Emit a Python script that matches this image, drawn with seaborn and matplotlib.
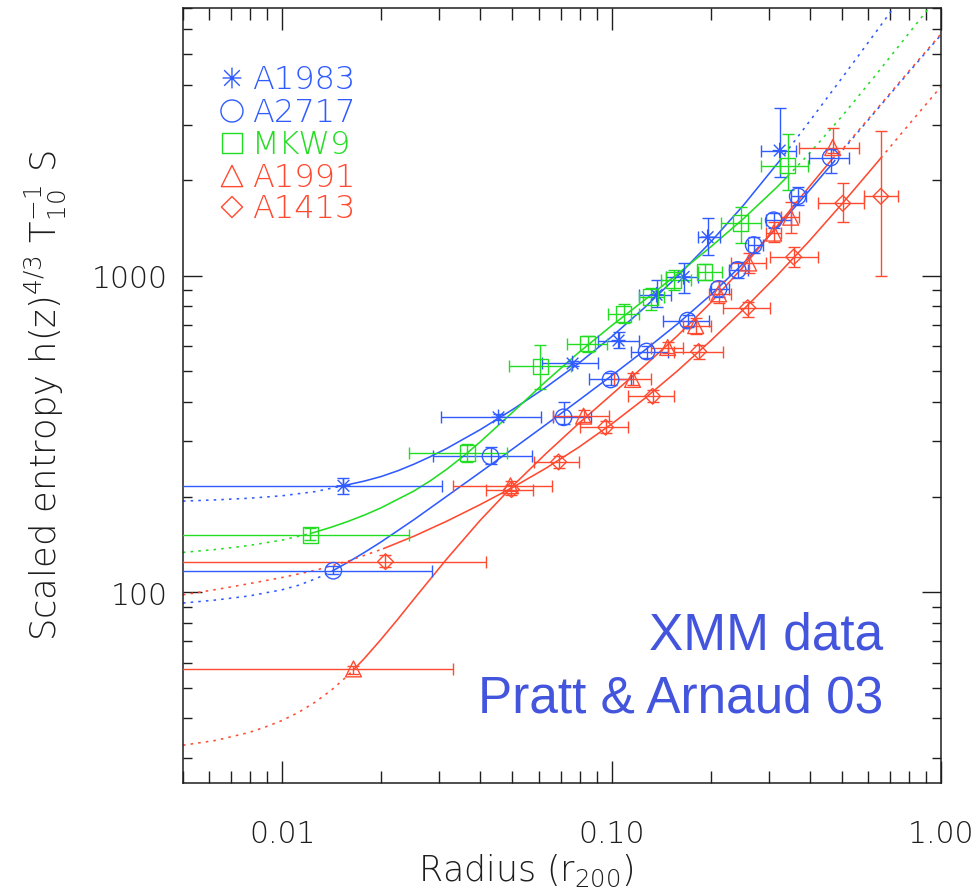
import matplotlib
matplotlib.use("Agg")
import matplotlib.pyplot as plt
import seaborn as sns
import numpy as np
from matplotlib.path import Path
from matplotlib.ticker import LogLocator, FixedLocator, FixedFormatter, NullFormatter

sns.set_theme(style="white")
plt.rcParams['font.family'] = ['DejaVu Sans']
plt.rcParams['mathtext.fontset'] = 'custom'
plt.rcParams['mathtext.rm'] = 'DejaVu Sans:light'
plt.rcParams['mathtext.sf'] = 'DejaVu Sans:light'
plt.rcParams['mathtext.it'] = 'DejaVu Sans:italic:light'
plt.rcParams['mathtext.bf'] = 'DejaVu Sans:bold'

BLUE = '#2f5bff'
GREEN = '#22dd22'
RED = '#ff4a30'
TXT = '#4455dd'
INK = '#1e1e1e'

# ---------------- data (radius in r200, scaled entropy) ----------------
clusters = ['A1983', 'A2717', 'MKW9', 'A1991', 'A1413']

a1983_r = [0.01535, 0.04537, 0.07614, 0.1050, 0.1370, 0.1655, 0.1957, 0.3238]
a1983_rlo = [0.001, 0.03045, 0.0617, 0.09068, 0.1208, 0.1459, 0.1825, 0.2836]
a1983_rhi = [0.03066, 0.06127, 0.09068, 0.1208, 0.1511, 0.1825, 0.2128, 0.3621]
a1983_S = [217, 357, 528, 624, 870, 991, 1323, 2483]
a1983_Slo = [205, 350, 520, 593, 798, 882, 1161, 2042]
a1983_Shi = [230, 365, 537, 666, 969, 1096, 1518, 3388]

a2717_r = [0.01430, 0.04290, 0.07149, 0.0993, 0.1277, 0.1702, 0.2113, 0.2414, 0.2700, 0.3105, 0.3673, 0.4625]
a2717_rlo = [0.001, 0.02879, 0.06619, 0.08515, 0.1142, 0.1429, 0.1999, 0.2266, 0.2589, 0.2937, 0.3497, 0.3966]
a2717_rhi = [0.02859, 0.05715, 0.08635, 0.1142, 0.1480, 0.1971, 0.2266, 0.2589, 0.2876, 0.3497, 0.3884, 0.5247]
a2717_S = [117, 269, 357, 470, 576, 721, 908, 1042, 1249, 1496, 1780, 2360]
a2717_Slo = [114, 254, 340, 450, 551, 690, 857, 984, 1178, 1412, 1668, 2102]
a2717_Shi = [121, 288, 398, 491, 601, 753, 962, 1104, 1323, 1574, 1900, 2519]

mkw9_r = [0.01218, 0.03652, 0.06084, 0.08456, 0.1088, 0.1314, 0.1543, 0.1917, 0.2465, 0.3424]
mkw9_rlo = [0.001, 0.02434, 0.04865, 0.0730, 0.09723, 0.1208, 0.1409, 0.1825, 0.2143, 0.2836]
mkw9_rhi = [0.02434, 0.04831, 0.07509, 0.09656, 0.1208, 0.1439, 0.1738, 0.2158, 0.2836, 0.3939]
mkw9_S = [152, 275, 517, 610, 758, 857, 969, 1027, 1464, 2227]
mkw9_Slo = [146, 258, 438, 572, 710, 780, 902, 969, 1267, 1859]
mkw9_Shi = [160, 294, 606, 647, 815, 915, 1042, 1089, 1644, 2808]

a1991_r = [0.01646, 0.04934, 0.08223, 0.1158, 0.1480, 0.1800, 0.2113, 0.2607, 0.3105, 0.3497, 0.4691]
a1991_rlo = [0.001, 0.03311, 0.06619, 0.1014, 0.1314, 0.1643, 0.1971, 0.2298, 0.2937, 0.3261, 0.3698]
a1991_rhi = [0.03311, 0.06573, 0.09792, 0.1314, 0.1643, 0.1999, 0.2298, 0.2937, 0.3261, 0.3698, 0.5627]
a1991_S = [57.3, 217, 360, 470, 593, 695, 876, 1096, 1362, 1529, 2537]
a1991_Slo = [55.3, 209, 345, 450, 568, 656, 821, 1020, 1276, 1362, 2447]
a1991_Shi = [58.6, 225, 376, 491, 619, 737, 962, 1178, 1475, 1704, 2933]

a1413_r = [0.02059, 0.04968, 0.06904, 0.0959, 0.1332, 0.1838, 0.2589, 0.3572, 0.5031, 0.6564]
a1413_rlo = [0.001, 0.04143, 0.05795, 0.08046, 0.1118, 0.1543, 0.2174, 0.3020, 0.4224, 0.5827]
a1413_rhi = [0.04143, 0.05754, 0.0799, 0.1118, 0.1543, 0.2174, 0.3020, 0.4224, 0.5827, 0.7393]
a1413_S = [125, 211, 258, 332, 416, 576, 792, 1145, 1692, 1780]
a1413_Slo = [120, 203, 247, 318, 398, 547, 742, 1065, 1475, 998]
a1413_Shi = [131, 218, 269, 347, 434, 606, 827, 1231, 1955, 2869]

# model curves (solid inside data range, dotted outside)
a1983_fit_r = [0.005, 0.00631, 0.00794, 0.0100, 0.01259, 0.01524, 0.01778, 0.01995, 0.02239, 0.02512,
               0.02818, 0.03162, 0.03981, 0.05012, 0.0631, 0.07943, 0.1, 0.1259, 0.1585, 0.1995,
               0.2512, 0.3238, 0.3981, 0.5012, 0.631, 0.7413]
a1983_fit_S = [194.1, 195.9, 198.2, 201.8, 208.0, 216.8, 224.6, 232.0, 241.8, 253.9,
               268.2, 284.8, 325.8, 378.0, 443.6, 528.4, 641.2, 792.5, 995.4, 1274,
               1667, 2307, 3062, 4217, 5834, 7328]
a1983_solid = (5, 21)

a2717_fit_r = [0.005, 0.00631, 0.00794, 0.0100, 0.01122, 0.01259, 0.01334, 0.01429, 0.01585, 0.01778,
               0.01995, 0.02512, 0.03162, 0.03981, 0.05012, 0.0631, 0.07943, 0.1, 0.1259, 0.1585,
               0.1995, 0.2512, 0.3162, 0.3981, 0.4724, 0.5012, 0.631, 0.7943, 1.0]
a2717_fit_S = [92.5, 94.6, 97.4, 101.9, 105.3, 110.2, 113.2, 117.2, 124.5, 133.7,
               144.2, 169.6, 201.2, 238.8, 283.8, 338.1, 403.6, 483.1, 580.8, 704.0,
               867.0, 1093, 1411, 1856, 2285, 2480, 3290, 4360, 5760]
a2717_solid = (7, 24)

mkw9_fit_r = [0.005, 0.00631, 0.00794, 0.0100, 0.01219, 0.01259, 0.01413, 0.01585, 0.01778, 0.01995,
              0.02512, 0.02818, 0.03162, 0.03548, 0.03981, 0.05012, 0.0631, 0.07943, 0.1, 0.1259,
              0.1585, 0.1995, 0.2512, 0.3162, 0.3424, 0.3981, 0.5012, 0.631, 0.7943, 0.9333]
mkw9_fit_S = [133.7, 136.6, 140.6, 146.2, 153.5, 154.9, 160.7, 167.5, 175.4, 184.8,
              208.9, 225.1, 244.9, 269.1, 297.8, 370.7, 463.1, 571.5, 695.0, 837.5,
              1012, 1230, 1512, 1894, 2059, 2429, 3192, 4276, 5781, 7145]
mkw9_solid = (4, 24)

a1991_fit_r = [0.005, 0.00631, 0.00794, 0.00891, 0.0100, 0.01122, 0.01259, 0.01413, 0.01585, 0.01646,
               0.01778, 0.01995, 0.02239, 0.02512, 0.03162, 0.03981, 0.05012, 0.0631, 0.07943, 0.1,
               0.1259, 0.1585, 0.1995, 0.2512, 0.3162, 0.3981, 0.4691, 0.5012, 0.631, 0.7943, 1.0]
a1991_fit_S = [32.9, 34.1, 36.1, 37.6, 39.4, 41.8, 45.0, 49.2, 54.7, 56.9,
               61.9, 71.0, 82.0, 95.2, 127.6, 168.3, 216.8, 273.8, 341.2, 421.1,
               519.4, 646.3, 819.6, 1068, 1424, 1908, 2346, 2500, 3310, 4390, 5800]
a1991_solid = (9, 26)

a1413_fit_r = [0.005, 0.00631, 0.00794, 0.0100, 0.01259, 0.01585, 0.01995, 0.0203, 0.02512, 0.03162,
               0.03981, 0.05012, 0.0631, 0.07943, 0.1, 0.1259, 0.1585, 0.1995, 0.2512, 0.3162,
               0.3981, 0.5012, 0.631, 0.6564, 0.7943, 1.0]
a1413_fit_S = [98.2, 102.1, 106.5, 111.4, 117.3, 125.5, 136.5, 137.4, 150.4, 167.8,
               189.0, 214.5, 246.3, 287.0, 339.9, 409.0, 500.4, 621.5, 781.2, 994.9,
               1286, 1688, 2238, 2350, 2978, 3954]
a1413_solid = (7, 23)

x_ticks = [0.01, 0.1, 1.0]
x_ticklabels = ['0.01', '0.10', '1.00']
y_ticks = [100, 1000]
y_ticklabels = ['100', '1000']

# ---------------- markers ----------------
ast_path = Path([(0, 1), (0, -1), (-0.75, 0.75), (0.75, -0.75), (-0.75, -0.75), (0.75, 0.75),
                 (-0.9, 0), (0.9, 0)],
                [Path.MOVETO, Path.LINETO] * 4)

series = [
    dict(name='A1983', color=BLUE, marker=ast_path, s=125,
         r=a1983_r, rlo=a1983_rlo, rhi=a1983_rhi, S=a1983_S, Slo=a1983_Slo, Shi=a1983_Shi,
         fr=a1983_fit_r, fS=a1983_fit_S, solid=a1983_solid),
    dict(name='A2717', color=BLUE, marker='o', s=140,
         r=a2717_r, rlo=a2717_rlo, rhi=a2717_rhi, S=a2717_S, Slo=a2717_Slo, Shi=a2717_Shi,
         fr=a2717_fit_r, fS=a2717_fit_S, solid=a2717_solid),
    dict(name='MKW9', color=GREEN, marker='s', s=125,
         r=mkw9_r, rlo=mkw9_rlo, rhi=mkw9_rhi, S=mkw9_S, Slo=mkw9_Slo, Shi=mkw9_Shi,
         fr=mkw9_fit_r, fS=mkw9_fit_S, solid=mkw9_solid),
    dict(name='A1991', color=RED, marker='^', s=130,
         r=a1991_r, rlo=a1991_rlo, rhi=a1991_rhi, S=a1991_S, Slo=a1991_Slo, Shi=a1991_Shi,
         fr=a1991_fit_r, fS=a1991_fit_S, solid=a1991_solid),
    dict(name='A1413', color=RED, marker='D', s=64,
         r=a1413_r, rlo=a1413_rlo, rhi=a1413_rhi, S=a1413_S, Slo=a1413_Slo, Shi=a1413_Shi,
         fr=a1413_fit_r, fS=a1413_fit_S, solid=a1413_solid),
]

W, H = 973, 895
fig = plt.figure(figsize=(W / 100, H / 100), dpi=100)
ax = fig.add_axes([183 / W, 1 - 784 / H, (941 - 183) / W, (784 - 9) / H])
ax.set_xscale('log')
ax.set_yscale('log')
ax.set_xlim(0.005, 1.0)
ax.set_ylim(25, 7000)

DOT = (0, (1.6, 3.2))
LW = 1.15
for sd in series:
    fr = np.asarray(sd['fr'])
    fS = np.asarray(sd['fS'])
    i0, i1 = sd['solid']
    c = sd['color']
    sns.lineplot(x=fr[:i0 + 1], y=fS[:i0 + 1], ax=ax, color=c, lw=LW, linestyle=DOT,
                 sort=False, estimator=None, legend=False)
    sns.lineplot(x=fr[i0:i1 + 1], y=fS[i0:i1 + 1], ax=ax, color=c, lw=LW,
                 sort=False, estimator=None, legend=False)
    sns.lineplot(x=fr[i1:], y=fS[i1:], ax=ax, color=c, lw=LW, linestyle=DOT,
                 sort=False, estimator=None, legend=False)

for sd in series:
    r = np.asarray(sd['r']); S = np.asarray(sd['S'])
    xerr = [r - np.asarray(sd['rlo']), np.asarray(sd['rhi']) - r]
    yerr = [S - np.asarray(sd['Slo']), np.asarray(sd['Shi']) - S]
    ax.errorbar(r, S, xerr=xerr, yerr=yerr, fmt='none', ecolor=sd['color'],
                elinewidth=1.0, capsize=4.5, capthick=1.0, zorder=3)
    sns.scatterplot(x=r, y=S, ax=ax, marker=sd['marker'], s=sd['s'], color=sd['color'],
                    facecolor='none', edgecolor=sd['color'], linewidth=1.0, zorder=4,
                    legend=False)

# legend (drawn as in the original: coloured symbols + coloured names)
leg_mk_y = [0.9097, 0.8671, 0.8258, 0.7832, 0.7432]
leg_tx_y = [0.8968, 0.8542, 0.8129, 0.7703, 0.7303]
for sd, my, ty in zip(series, leg_mk_y, leg_tx_y):
    ax.scatter([0.0646], [my], transform=ax.transAxes, marker=sd['marker'],
               s=sd['s'] * 1.8, facecolor='none', edgecolor=sd['color'], linewidth=1.0,
               clip_on=False, zorder=5)
    ax.text(0.091, ty, sd['name'], transform=ax.transAxes, color=sd['color'],
            fontsize=23, va='baseline', ha='left', fontweight='light')

# axes styling
ax.xaxis.set_major_locator(FixedLocator(x_ticks))
ax.xaxis.set_major_formatter(FixedFormatter(x_ticklabels))
ax.xaxis.set_minor_locator(LogLocator(base=10, subs=np.arange(2, 10)))
ax.xaxis.set_minor_formatter(NullFormatter())
ax.yaxis.set_major_locator(FixedLocator(y_ticks))
ax.yaxis.set_major_formatter(FixedFormatter(y_ticklabels))
ax.yaxis.set_minor_locator(LogLocator(base=10, subs=np.arange(2, 10)))
ax.yaxis.set_minor_formatter(NullFormatter())

ax.tick_params(which='both', direction='in', top=True, right=True, bottom=True, left=True,
               color=INK, width=1.0, labelcolor=INK, labelsize=21.5)
ax.tick_params(axis='x', which='major', length=16, pad=26)
ax.tick_params(axis='x', which='minor', length=8.5)
ax.tick_params(axis='y', which='major', length=13.5, pad=11)
ax.tick_params(axis='y', which='minor', length=6.5)
for sp in ax.spines.values():
    sp.set_color(INK)
    sp.set_linewidth(1.1)
for lab in ax.get_xticklabels() + ax.get_yticklabels():
    lab.set_fontweight('light')

fig.text(45 / W, 1 - 396 / H, r'Scaled entropy h(z)$^{4/3}$ T$_{10}^{-1}$ S',
         rotation=90, ha='center', va='center', fontsize=25.5, color=INK, fontweight='light')
fig.text(418 / W, 1 - 881 / H, r'Radius (r$_{200}$)', ha='left', va='baseline',
         fontsize=25, color=INK, fontweight='light')

fig.text(883 / W, 1 - 650 / H, 'XMM data', ha='right', va='baseline', fontsize=37,
         color=TXT, family=['Liberation Sans', 'DejaVu Sans'])
fig.text(883 / W, 1 - 713 / H, 'Pratt & Arnaud 03', ha='right', va='baseline', fontsize=37,
         color=TXT, family=['Liberation Sans', 'DejaVu Sans'])

fig.savefig('out.png', dpi=100, facecolor='white')
